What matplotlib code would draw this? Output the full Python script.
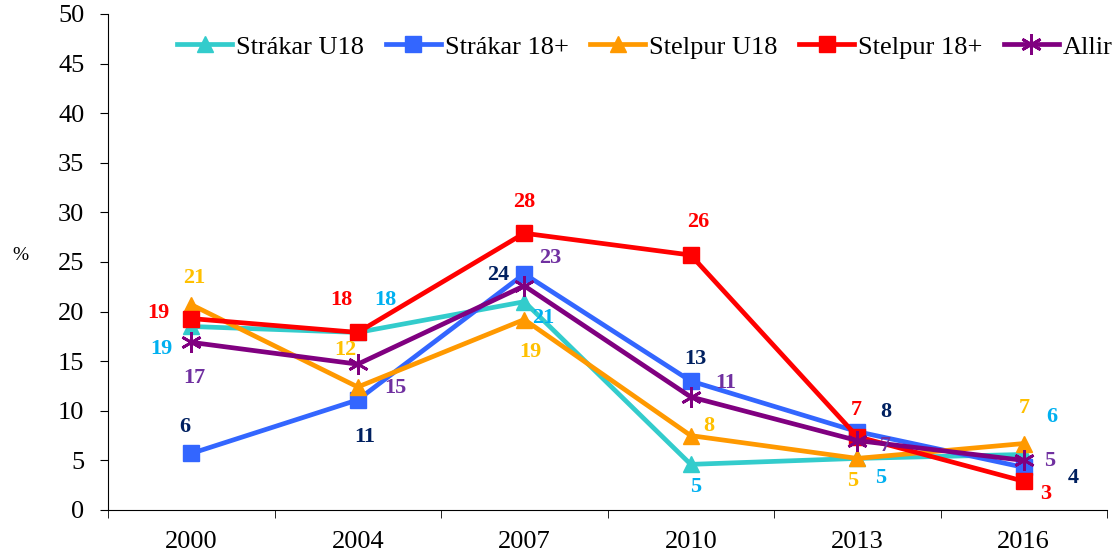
"""Line chart: share (%) by group and survey year, with per-point value labels."""
import matplotlib
matplotlib.use("Agg")
import matplotlib.pyplot as plt
import numpy as np

# ---------------------------------------------------------------------------
# Data
# ---------------------------------------------------------------------------
years = ["2000", "2004", "2007", "2010", "2013", "2016"]

strakar_u18 = [18.5, 17.9, 21.0, 4.6, 5.2, 5.6]
strakar_18 = [5.7, 11.1, 23.8, 13.0, 7.9, 4.3]
stelpur_u18 = [20.7, 12.4, 19.2, 7.5, 5.2, 6.7]
stelpur_18 = [19.3, 17.9, 27.9, 25.7, 7.4, 2.9]
allir = [16.9, 14.7, 22.6, 11.4, 7.0, 5.0]

series_names = ["Strákar U18", "Strákar 18+", "Stelpur U18", "Stelpur 18+", "Allir"]

# value labels as printed on the chart
lbl_strakar_u18 = ["19", "18", "21", "5", "5", "6"]
lbl_strakar_18 = ["6", "11", "24", "13", "8", "4"]
lbl_stelpur_u18 = ["21", "12", "19", "8", "5", "7"]
lbl_stelpur_18 = ["19", "18", "28", "26", "7", "3"]
lbl_allir = ["17", "15", "23", "11", "7", "5"]

# ---------------------------------------------------------------------------
# Styling
# ---------------------------------------------------------------------------
line_colors = ["#33CCCC", "#3366FF", "#FF9900", "#FF0000", "#800080"]
label_colors = ["#00B0F0", "#002060", "#FFC000", "#FF0000", "#7030A0"]
markers = ["^", "s", "^", "s", (6, 2, 0)]
marker_sizes = [12, 12, 12, 12, 15]

# label offsets in pixels (dx right, dy down) from each point
offsets = [
    [(-30, 23), (28, -32), (19, 16), (5, 23), (23, 20), (28, -37)],
    [(-6, -26), (7, 37), (-26, 1), (5, -22), (29, -20), (50, 11)],
    [(3, -27), (-12, -37), (6, 32), (18, -10), (-5, 23), (0, -36)],
    [(-33, -6), (-16, -32), (0, -31), (8, -33), (-1, -27), (22, 13)],
    [(3, 36), (38, 24), (26, -28), (35, -14), (28, 5), (26, 1)],
]

plt.rcParams["font.family"] = ["Liberation Serif", "DejaVu Serif"]

fig = plt.figure(figsize=(11.17, 5.56), dpi=100)
ax = fig.add_axes([108 / 1117, 1 - 510 / 556, 999 / 1117, 496 / 556])

x = np.arange(len(years))
all_values = [strakar_u18, strakar_18, stelpur_u18, stelpur_18, allir]
all_labels = [lbl_strakar_u18, lbl_strakar_18, lbl_stelpur_u18, lbl_stelpur_18, lbl_allir]

for i, (vals, name) in enumerate(zip(all_values, series_names)):
    mew = 2 if i == 4 else 1
    ax.plot(x, vals, color=line_colors[i], lw=3.4, marker=markers[i],
            markersize=marker_sizes[i], markeredgewidth=mew,
            markeredgecolor=line_colors[i], label=name, zorder=3 + i)

px2pt = 72 / 100
for i, vals in enumerate(all_values):
    for j, v in enumerate(vals):
        dx, dy = offsets[i][j]
        ax.annotate(all_labels[i][j], (x[j], v), xytext=(dx * px2pt, -dy * px2pt),
                    textcoords="offset points", ha="center", va="center",
                    color=label_colors[i], fontsize=16, fontweight="bold", zorder=10)

ax.set_xlim(-0.5, len(years) - 0.5)
ax.set_ylim(0, 50)
ax.set_yticks(range(0, 51, 5))
ax.tick_params(axis="y", labelsize=19, length=6, direction="out", pad=11)
ax.set_xticks(x)
ax.set_xticklabels(years, fontsize=19)
ax.tick_params(axis="x", which="major", length=0, pad=15)
ax.set_xticks(np.arange(-0.5, len(years), 1), minor=True)
ax.tick_params(axis="x", which="minor", length=6, direction="out")

for side in ("top", "right"):
    ax.spines[side].set_visible(False)

fig.text(20 / 1117, 1 - 255 / 556, "%", fontsize=14, ha="center", va="center")

ax.legend(loc="center", bbox_to_anchor=(645 / 1117, 1 - 47 / 556),
          bbox_transform=fig.transFigure, ncol=5, frameon=False,
          fontsize=19, handlelength=2.1, columnspacing=0.8, handletextpad=0.15,
          borderpad=0, borderaxespad=0)

fig.savefig("out.png", dpi=100)
